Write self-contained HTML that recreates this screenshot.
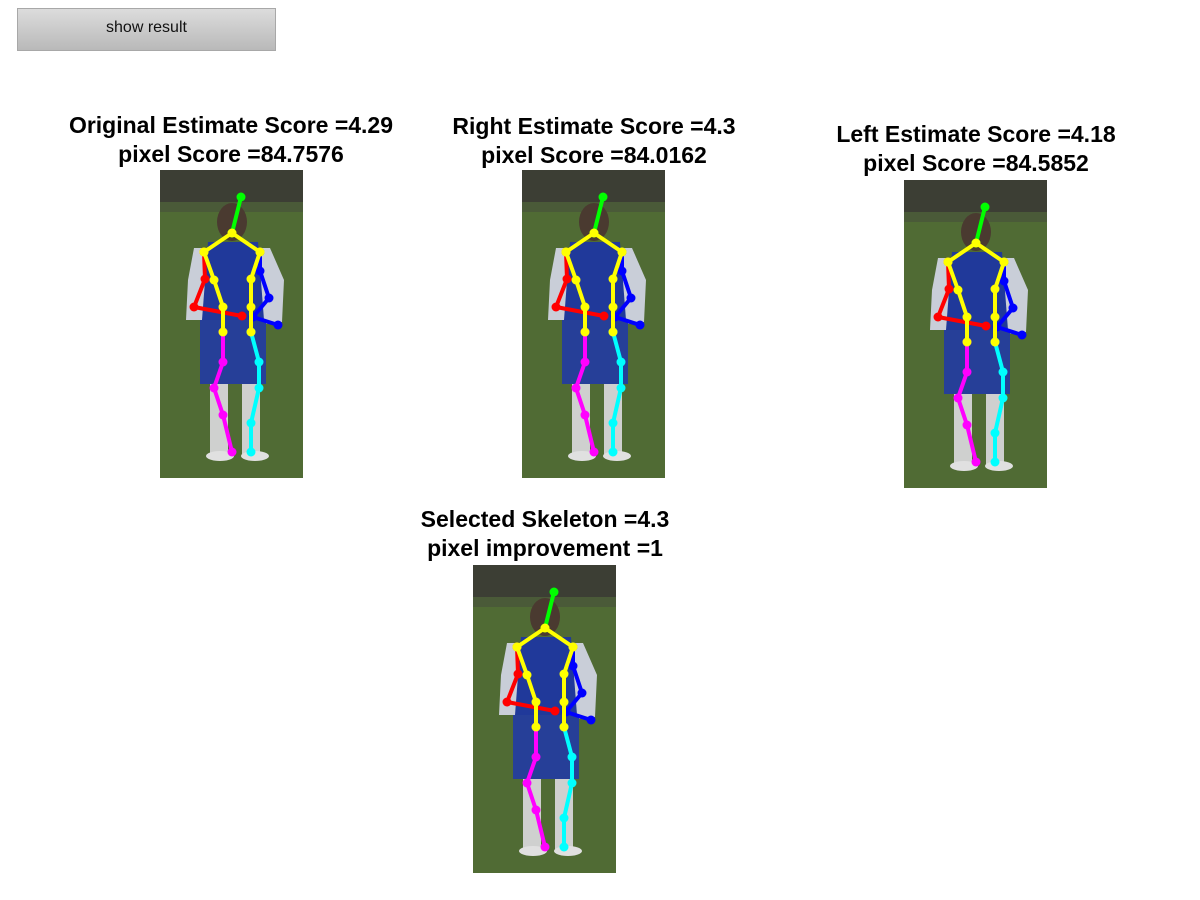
<!DOCTYPE html>
<html><head><meta charset="utf-8"><style>
body{margin:0;width:1200px;height:900px;background:#fff;position:relative;overflow:hidden;font-family:"Liberation Sans",Arial,sans-serif}
#btn{position:absolute;left:17px;top:8px;width:257px;height:41px;border:1px solid #a8a8a8;background:linear-gradient(#dcdcdc,#b9b9b9);font-size:16px;text-align:center;line-height:38px;color:#111;box-sizing:content-box}
.title{position:absolute;width:440px;text-align:center;font-weight:bold;font-size:23px;line-height:29px;color:#000}
svg{position:absolute;left:0;top:0}
</style></head><body>
<div id="btn">show result</div>
<div class="title" style="left:11px;top:111px">Original Estimate Score =4.29<br>pixel Score =84.7576</div>
<div class="title" style="left:374px;top:112px">Right Estimate Score =4.3<br>pixel Score =84.0162</div>
<div class="title" style="left:756px;top:120px">Left Estimate Score =4.18<br>pixel Score =84.5852</div>
<div class="title" style="left:325px;top:505px">Selected Skeleton =4.3<br>pixel improvement =1</div>
<svg id="s" width="1200" height="900"></svg>
<script>
const panelX=[160,522,904,473];
const panelY=[170,170,180,565];
const panelNames=['original-panel','right-panel','left-panel','selected-panel'];
const headX=[81,72], headY=[27,63];
const shouldersX=[44,72,100], shouldersY=[82,63,82];
const rTorsoX=[44,54,63,63], rTorsoY=[82,110,137,162];
const lTorsoX=[100,91,91,91], lTorsoY=[82,109,137,162];
const rArmX=[44,45,34,82], rArmY=[82,109,137,146];
const lArmX=[100,100,109,93,118], lArmY=[82,101,128,147,155];
const rLegX=[63,63,54,63,72], rLegY=[162,192,218,245,282];
const lLegX=[91,99,99,91,91], lLegY=[162,192,218,253,282];
const limbs=[[headX,headY,'#00ff00'],[rArmX,rArmY,'#ff0000'],[lArmX,lArmY,'#0000ff'],[rLegX,rLegY,'#ff00ff'],[lLegX,lLegY,'#00ffff'],[shouldersX,shouldersY,'#ffff00'],[rTorsoX,rTorsoY,'#ffff00'],[lTorsoX,lTorsoY,'#ffff00']];
const NS='http://www.w3.org/2000/svg', s=document.getElementById('s');
function mk(t,a,p){const e=document.createElementNS(NS,t);for(const k in a)e.setAttribute(k,a[k]);p.appendChild(e);return e;}
panelX.forEach((px,i)=>{
 const g=mk('g',{transform:`translate(${px},${panelY[i]})`},s);
 
 
 mk('rect',{x:0,y:0,width:143,height:308,fill:'#506b34'},g);
 mk('rect',{x:0,y:0,width:143,height:32,fill:'#3c3e34'},g);
 mk('rect',{x:0,y:32,width:143,height:10,fill:'#4a5a38'},g);
 mk('ellipse',{cx:72,cy:52,rx:15,ry:19,fill:'#4a3a30'},g);
 mk('path',{d:'M34 78 L110 78 L124 110 L122 152 L104 154 L104 210 L42 210 L42 150 L26 150 L28 110 Z',fill:'#c9ced8'},g);
 mk('path',{d:'M48 72 L98 72 L104 150 L42 150 Z',fill:'#20399a'},g);
 mk('rect',{x:40,y:150,width:66,height:64,fill:'#263f98'},g);
 mk('rect',{x:50,y:214,width:18,height:70,fill:'#cfd0cf'},g);
 mk('rect',{x:82,y:214,width:18,height:70,fill:'#cfd0cf'},g);
 mk('ellipse',{cx:60,cy:286,rx:14,ry:5,fill:'#e0e0e0'},g);
 mk('ellipse',{cx:95,cy:286,rx:14,ry:5,fill:'#e0e0e0'},g);
 limbs.forEach(([X,Y,c],k)=>{
  const pts=X.map((x,j)=>x+','+Y[j]).join(' ');
  const pl=mk('polyline',{points:pts,fill:'none',stroke:c,'stroke-width':4,'stroke-linejoin':'round'},g);
  
  
  X.forEach((x,j)=>{
   const c2=mk('circle',{cx:x,cy:Y[j],r:4.5,fill:c},g);
   
   
  });
 });
});
</script>
</body></html>
